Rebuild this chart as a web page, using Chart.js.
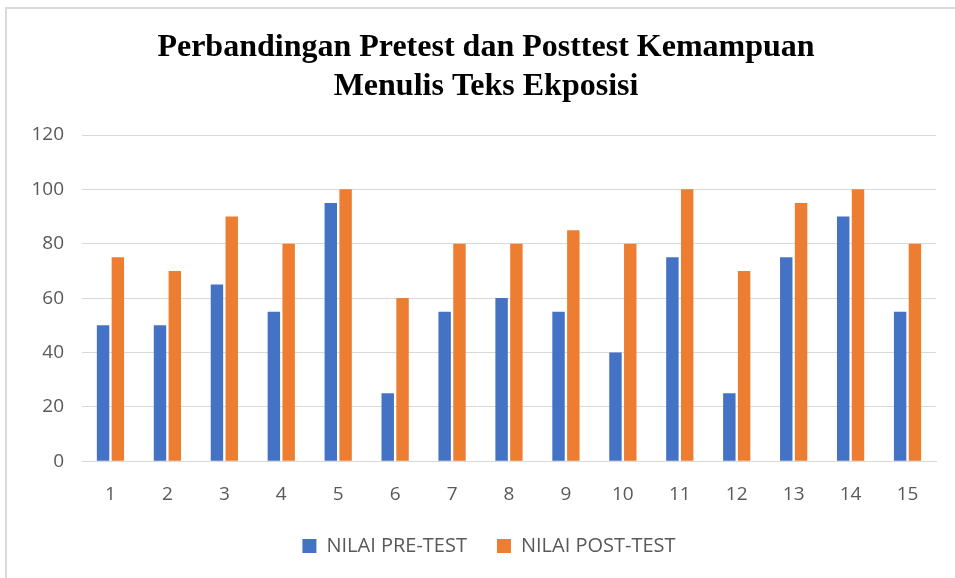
<!DOCTYPE html>
<html>
<head>
<meta charset="utf-8">
<script src="https://cdn.jsdelivr.net/npm/chart.js@4.4.0/dist/chart.umd.min.js"></script>
<style>
  html, body { margin: 0; padding: 0; background: #fff; }
  #wrap { position: relative; width: 955px; height: 578px; overflow: hidden; }
  #frame { position: absolute; left: 5px; top: 7px; width: 1000px; height: 1000px;
           border-left: 2px solid #d9d9d9; border-top: 2px solid #d9d9d9; }
  canvas { position: absolute; left: 0; top: 0; }
</style>
</head>
<body>
<div id="wrap">
  <div id="frame"></div>
  <canvas id="chart" width="955" height="578"></canvas>
</div>
<script>
// data
const siswa = ["1", "2", "3", "4", "5", "6", "7", "8", "9", "10", "11", "12", "13", "14", "15"];
const nilaiPre = [50, 50, 65, 55, 95, 25, 55, 60, 55, 40, 75, 25, 75, 90, 55];
const nilaiPost = [75, 70, 90, 80, 100, 60, 80, 80, 85, 80, 100, 70, 95, 100, 80];
const judul = ["Perbandingan Pretest dan Posttest Kemampuan", "Menulis Teks Ekposisi"];

const fontSans = "'Open Sans', 'Noto Sans', sans-serif";

// judul digambar sendiri supaya bisa ditengah kanvas
const judulPlugin = {
  id: "judul",
  afterLayout(chart) {
    // geser legend sedikit ke kanan, seperti aslinya
    chart.legend.left += 30;
  },
  afterDraw(chart) {
    const c = chart.ctx;
    c.save();
    c.fillStyle = "#000";
    c.font = "bold 32px 'Liberation Serif', 'Times New Roman', serif";
    c.textAlign = "center";
    c.textBaseline = "middle";
    c.fillText(judul[0], 486, 48);
    c.fillText(judul[1], 486, 87);
    c.restore();
  }
};

const ctx = document.getElementById("chart").getContext("2d");
new Chart(ctx, {
  type: "bar",
  data: {
    labels: siswa,
    datasets: [
      { label: "NILAI PRE-TEST", data: nilaiPre, backgroundColor: "#4472C4" },
      { label: "NILAI POST-TEST", data: nilaiPost, backgroundColor: "#ED7D31" }
    ]
  },
  options: {
    responsive: false,
    animation: false,
    layout: { padding: { left: 12, right: 19, top: 135, bottom: 12 } },
    datasets: { bar: { categoryPercentage: 0.52, barPercentage: 0.84 } },
    plugins: {
      title: { display: false },
      legend: {
        position: "bottom",
        labels: {
          color: "#595959",
          font: { family: fontSans, size: 20 },
          boxWidth: 14,
          boxHeight: 14,
          padding: 30
        }
      },
      tooltip: { enabled: false }
    },
    scales: {
      x: {
        afterFit: function (scale) { scale.height -= 14; },
        grid: { display: false },
        border: { color: "#d9d9d9", width: 1 },
        ticks: { color: "#595959", font: { family: fontSans, size: 19 }, padding: 14 }
      },
      y: {
        min: 0,
        max: 120,
        afterFit: function (scale) { scale.width = 70; },
        grid: { color: "#d9d9d9", lineWidth: 1, drawTicks: false },
        border: { display: false },
        ticks: { stepSize: 20, color: "#595959", font: { family: fontSans, size: 19 }, padding: 18 }
      }
    }
  },
  plugins: [judulPlugin]
});
</script>
</body>
</html>
